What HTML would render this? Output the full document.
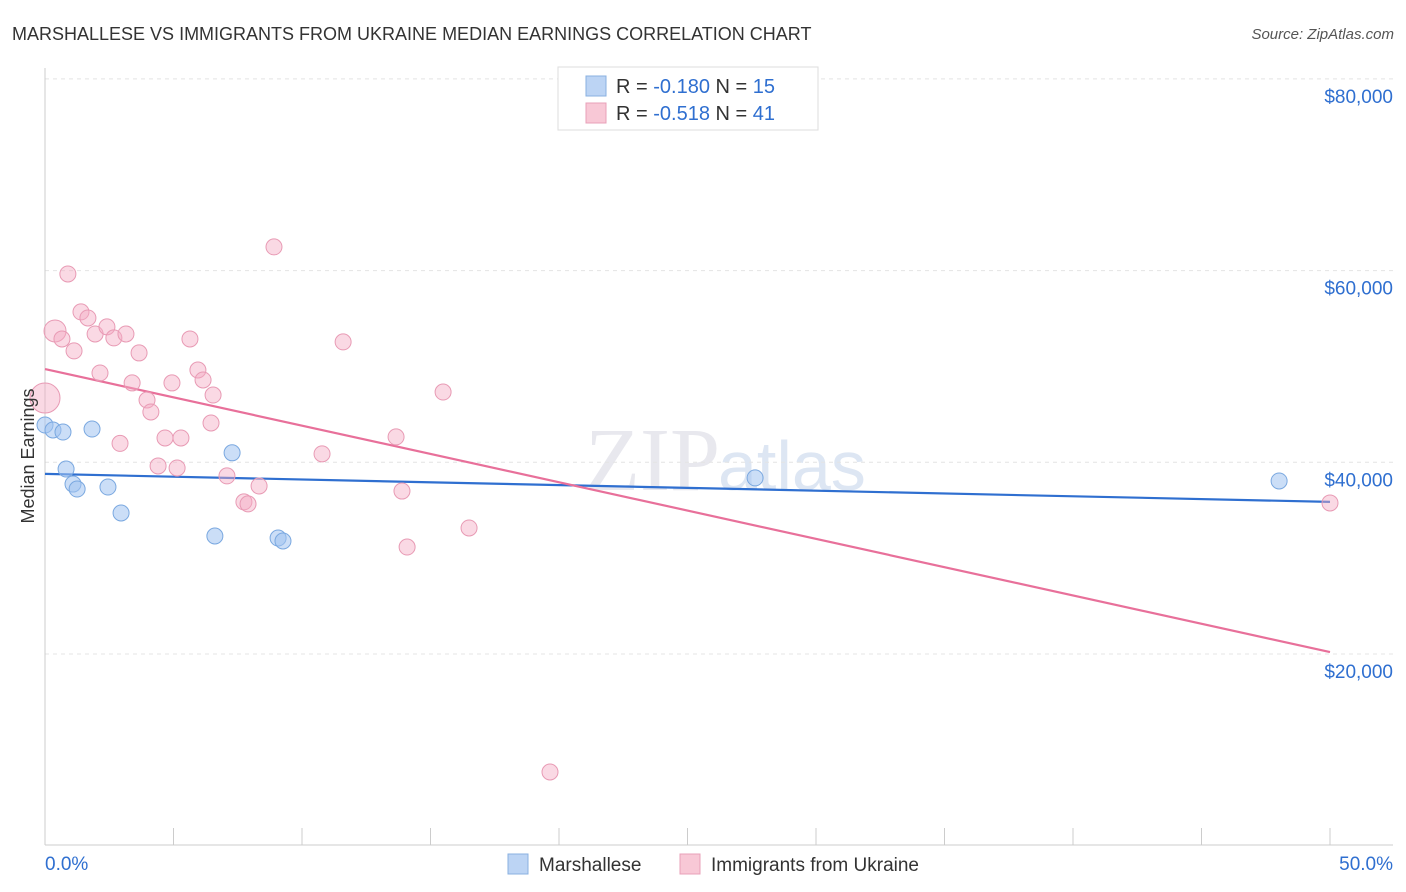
<!DOCTYPE html>
<html><head><meta charset="utf-8"><style>
body{margin:0;background:#fff;font-family:"Liberation Sans",sans-serif;}
svg{display:block}
</style></head><body>
<svg id="chart" width="1406" height="892">
<text x="12" y="40" font-size="18" fill="#333">MARSHALLESE VS IMMIGRANTS FROM UKRAINE MEDIAN EARNINGS CORRELATION CHART</text>
<text x="1394" y="39" font-size="15" fill="#555" font-style="italic" text-anchor="end">Source: ZipAtlas.com</text>
<text x="720" y="490" font-size="90" fill="#e8e8ee" font-family="Liberation Serif,serif" text-anchor="end">ZIP</text>
<text x="718" y="490" font-size="70" fill="#dde6f3">atlas</text>
<g id="grid"></g><g id="axes"></g><g id="lines"></g><g id="points"></g>
<text transform="translate(34,456) rotate(-90)" font-size="18" fill="#333" text-anchor="middle">Median Earnings</text>
<g>
<rect x="558" y="67" width="260" height="63" fill="#fff" stroke="#ddd"/>
<rect x="586" y="76" width="20" height="20" fill="#bcd4f4" stroke="#8ab0e0"/>
<text x="616" y="93" font-size="20" fill="#333">R = <tspan fill="#2f6fd0">-0.180</tspan>   N = <tspan fill="#2f6fd0">15</tspan></text>
<rect x="586" y="103" width="20" height="20" fill="#f8c8d6" stroke="#e8a0b8"/>
<text x="616" y="120" font-size="20" fill="#333">R = <tspan fill="#2f6fd0">-0.518</tspan>   N = <tspan fill="#2f6fd0">41</tspan></text>
</g>
<g>
<rect x="508" y="854" width="20" height="20" fill="#bcd4f4" stroke="#8ab0e0"/>
<text x="539" y="871" font-size="19" fill="#333">Marshallese</text>
<rect x="680" y="854" width="20" height="20" fill="#f8c8d6" stroke="#e8a0b8"/>
<text x="711" y="871" font-size="19" fill="#333">Immigrants from Ukraine</text>
</g>
</svg>
<script>
const yTicks=[20000,40000,60000,80000];
const yTickLabels=["$20,000","$40,000","$60,000","$80,000"];
const xTickLabels=["0.0%","50.0%"];
const blueX=[0,0.31,0.70,0.82,1.09,1.25,1.83,2.45,2.96,6.61,7.28,9.07,9.26,27.63,48.02];
const blueY=[43890,43370,43160,39300,37730,37210,43470,37420,34710,32310,40990,32100,31790,38370,38050];
const pinkX=[0,0.39,0.66,0.89,1.13,1.40,1.67,1.95,2.14,2.41,2.68,2.92,3.15,3.39,3.66,3.97,4.12,4.40,4.67,4.94,5.14,5.29,5.64,5.95,6.15,6.46,6.54,7.08,7.74,7.90,8.33,8.91,10.78,11.60,13.66,13.89,14.09,15.49,16.50,19.65,50];
const pinkY=[46710,53700,52870,59650,51620,55690,55060,53390,49320,54130,52980,41970,53390,48280,51410,46500,45250,39620,42540,48280,39410,42540,52870,49630,48590,44100,47020,38580,35870,35660,37530,62470,40880,52560,42650,37000,31160,47330,33150,7690,35760];
const blueTrend=[38790,35870];
const pinkTrend=[49730,20200];
const NS="http://www.w3.org/2000/svg";
const xs=v=>45+v/50*1285;
const ys=v=>845.7-v*191.7/20000;
function mk(tag,attrs,parent){const e=document.createElementNS(NS,tag);for(const k in attrs)e.setAttribute(k,attrs[k]);document.getElementById(parent).appendChild(e);return e;}
yTicks.forEach((t,i)=>{
 const l=mk('line',{x1:45,x2:1393,y1:ys(t),y2:ys(t),stroke:'#e4e4e4','stroke-dasharray':'4,4'},'grid');
 
 
 const tx=mk('text',{x:1393,y:ys(t)+24,'font-size':19,fill:'#2f6fd0','text-anchor':'end'},'grid');
 tx.textContent=yTickLabels[i];
 
 
});
let a=mk('line',{x1:45,x2:45,y1:68,y2:845,stroke:'#ccc'},'axes');


a=mk('line',{x1:45,x2:1393,y1:845,y2:845,stroke:'#ccc'},'axes');


for(let i=0;i<=10;i++){
 const t=mk('line',{x1:xs(i*5),x2:xs(i*5),y1:828,y2:845,stroke:'#ccc'},'axes');
 
 
}
[[0,'start',45],[50,'end',1393]].forEach((d,i)=>{
 const tx=mk('text',{x:d[2],y:870,'font-size':19,fill:'#2f6fd0','text-anchor':d[1]},'axes');
 tx.textContent=xTickLabels[i];
 
 
});
let ln=mk('line',{x1:xs(0),x2:xs(50),y1:ys(blueTrend[0]),y2:ys(blueTrend[1]),stroke:'#2f6fd0','stroke-width':2.2},'lines');


ln=mk('line',{x1:xs(0),x2:xs(50),y1:ys(pinkTrend[0]),y2:ys(pinkTrend[1]),stroke:'#e8709a','stroke-width':2.2},'lines');


pinkX.forEach((x,i)=>{
 const r=i===0?15:(i===1?11:8);
 const c=mk('circle',{cx:xs(x),cy:ys(pinkY[i]),r:r,fill:'rgba(245,170,195,0.45)',stroke:'#e89ab4','stroke-width':1},'points');
 
 
});
blueX.forEach((x,i)=>{
 const c=mk('circle',{cx:xs(x),cy:ys(blueY[i]),r:8,fill:'rgba(160,195,240,0.55)',stroke:'#7aa8e0','stroke-width':1},'points');
 
 
});
</script>
</body></html>
